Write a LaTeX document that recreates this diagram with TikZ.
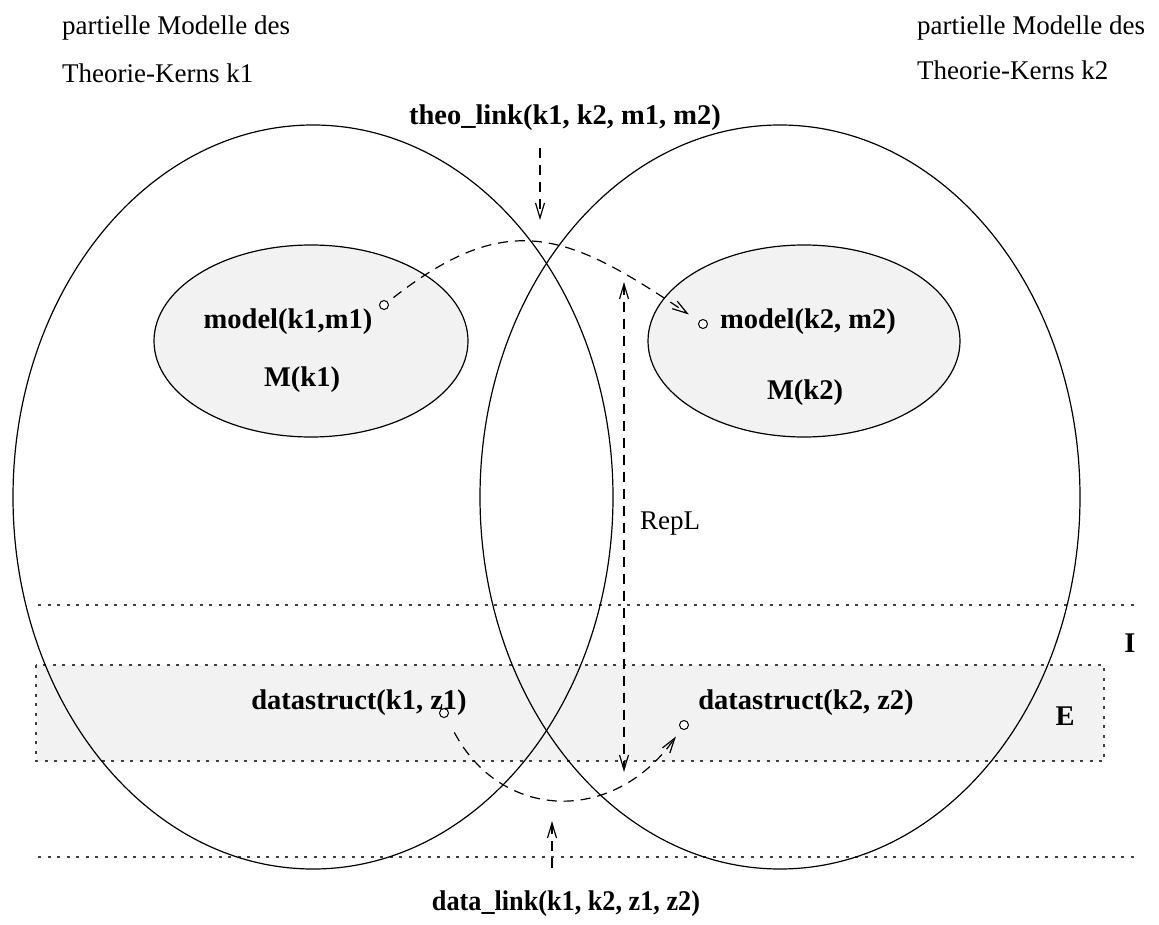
\documentclass[tikz,border=0pt]{standalone}
\usepackage{fontspec}
\setmainfont{Liberation Serif}
\usetikzlibrary{arrows.meta}

\definecolor{shade}{HTML}{F2F2F2}

\tikzset{
  plain/.style={font=\fontsize{27}{32}\selectfont, inner sep=0pt},
  bold/.style={font=\fontsize{28.5}{34}\selectfont\bfseries, inner sep=0pt},
  outline/.style={line width=1.2pt},
  region/.style={line width=1.2pt, fill=shade},
  dotline/.style={line width=1.3pt, black!75, dash pattern=on 3pt off 6.5pt},
  link/.style={line width=1.2pt, dash pattern=on 10pt off 7pt,
    -{Straight Barb[length=15pt,width=9pt,line width=1.2pt]}},
  twoway/.style={line width=1.2pt, dash pattern=on 10pt off 7pt,
    {Straight Barb[length=15pt,width=9pt,line width=1.2pt]}-{Straight Barb[length=15pt,width=9pt,line width=1.2pt]}},
  dotc/.style={circle, draw, line width=1pt, fill=white, inner sep=0pt, minimum size=9pt},
}

\begin{document}
\begin{tikzpicture}[x=1pt, y=-1pt]
  \useasboundingbox (0,0) rectangle (1159,925);

  % shaded data-structure strip (level E)
  \draw[region, draw=black!75, dash pattern=on 3pt off 6.5pt, line width=1.3pt]
    (36,665) rectangle (1104,761);

  % level separators
  \draw[dotline] (38,605) -- (1135,605);
  \draw[dotline] (38,857) -- (1135,857);

  % partial models of the two theory cores
  \draw[outline] (313,497) ellipse [x radius=300, y radius=372];
  \draw[outline] (780,497) ellipse [x radius=300, y radius=372];

  % model sets M(k1), M(k2)
  \draw[region] (311,341) ellipse [x radius=157, y radius=96];
  \draw[region] (804,341) ellipse [x radius=156, y radius=96];

  % headings
  \node[plain, anchor=west] (h1a) at (62,28) {partielle Modelle des};
  \node[plain, anchor=west] (h1b) at (62,73) {Theorie-Kerns k1};
  \node[plain, anchor=west] (h2a) at (917,28) {partielle Modelle des};
  \node[plain, anchor=west] (h2b) at (917,70) {Theorie-Kerns k2};

  % labels inside the model sets
  \node[bold] (mod1) at (288,322) {model(k1,m1)};
  \node[bold] (M1) at (302,380) {M(k1)};
  \node[bold] (mod2) at (808,322) {model(k2, m2)};
  \node[bold] (M2) at (805,393) {M(k2)};

  % data structures
  \node[bold] (ds1) at (359,703) {datastruct(k1, z1)};
  \node[bold] (ds2) at (806,703) {datastruct(k2, z2)};

  % level names
  \node[bold] (lvI) at (1130,643) {I};
  \node[bold] (lvE) at (1065,716) {E};

  % link names
  \node[bold] (theo) at (565,118) {theo\_link(k1, k2, m1, m2)};
  \node[bold] (data) at (566,904) {\scalebox{0.92}[1]{data\_link(k1, k2, z1, z2)}};
  \node[plain, anchor=west] (repl) at (640,524) {RepL};

  % element markers
  \node[dotc] (c1) at (384,305) {};
  \node[dotc] (c2) at (703,324) {};
  \node[dotc] (c3) at (444,713) {};
  \node[dotc] (c4) at (684,725) {};

  % links between models and between data structures
  \draw[link, shorten <=12pt, shorten >=17pt]
    (c1.center) to[out=38, in=146, looseness=1.28] (c2.center);
  \draw[link, shorten <=22pt, shorten >=14pt]
    (c3.center) to[out=-62, in=-125, looseness=1.3] (c4.center);

  % pointers from the link names
  \coordinate (theoA) at (540,148);
  \coordinate (theoB) at (540,220);
  \draw[link] (theoA) -- (theoB);
  \coordinate (dataA) at (552,868);
  \coordinate (dataB) at (552,821);
  \draw[link] (dataA) -- (dataB);

  % representation relation RepL
  \coordinate (repT) at (624,282);
  \coordinate (repB) at (624,772);
  \draw[twoway] (repT) -- (repB);
\end{tikzpicture}
\end{document}
